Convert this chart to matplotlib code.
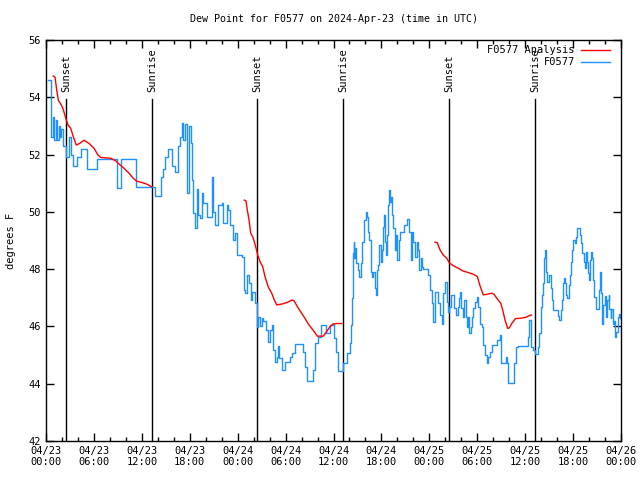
import numpy as np
import pandas as pd
import matplotlib
matplotlib.use('Agg')
from matplotlib import pyplot as plt
import matplotlib.dates as mdates

plt.rcParams['font.family'] = 'DejaVu Sans Mono'

start = pd.Timestamp('2024-04-23 00:00')

# observations: hours after 04/23 00:00 UTC, dew point degF
obs_hours = [0.25, 0.59, 0.66, 0.88, 1.00, 1.19, 1.38, 1.57, 1.75, 1.88, 2.13, 2.47, 2.88, 3.13,
             3.38, 3.92, 4.38, 4.76, 5.17, 6.42, 8.93, 9.35, 11.23, 13.65, 14.36, 14.65, 14.90,
             15.28, 15.74, 16.15, 16.53, 16.78, 16.99, 17.16, 17.41, 17.62, 17.91, 18.12, 18.24,
             18.41, 18.60, 18.87, 19.03, 19.28, 19.50, 19.66, 20.12, 20.82, 20.95, 21.16, 21.54,
             22.00, 22.16, 22.63, 22.79, 23.04, 23.38, 23.67, 23.95, 24.51, 24.79, 24.92, 25.21,
             25.46, 25.63, 25.83, 26.17, 26.38, 26.46, 26.58, 26.80, 26.99, 27.21, 27.55, 27.84,
             28.05, 28.26, 28.46, 28.68, 28.89, 29.09, 29.21, 29.51, 29.93, 30.55, 30.77, 31.18,
             32.22, 32.43, 32.72, 33.47, 33.68, 34.10, 34.44, 35.06, 35.56, 35.90, 36.06, 36.31,
             36.60, 37.23, 37.65, 38.07, 38.19, 38.32, 38.44, 38.53, 38.61, 38.69, 38.82, 39.11,
             39.23, 39.41, 39.61, 39.82, 40.03, 40.16, 40.32, 40.48, 40.66, 40.82, 40.98, 41.16,
             41.28, 41.41, 41.57, 41.74, 41.91, 42.04, 42.24, 42.36, 42.45, 42.57, 42.74, 42.86,
             42.99, 43.08, 43.20, 43.36, 43.49, 43.70, 43.83, 43.99, 44.17, 44.33, 44.87, 45.17,
             45.49, 45.67, 45.83, 45.99, 46.21, 46.42, 46.54, 46.75, 46.96, 47.12, 47.25, 47.87,
             48.08, 48.30, 48.42, 48.50, 48.67, 49.12, 49.34, 49.55, 49.75, 49.93, 50.18, 50.38,
             50.50, 50.68, 51.09, 51.30, 51.63, 51.75, 51.88, 52.00, 52.18, 52.34, 52.56, 52.68,
             52.88, 53.01, 53.18, 53.34, 53.51, 53.68, 54.01, 54.13, 54.35, 54.56, 54.76, 54.97,
             55.19, 55.39, 55.60, 55.81, 56.44, 56.85, 56.98, 57.60, 57.77, 57.89, 58.60, 58.85,
             59.14, 60.39, 60.52, 60.70, 60.95, 61.23, 61.65, 61.77, 61.95, 62.07, 62.20, 62.36,
             62.48, 62.61, 62.77, 62.95, 63.24, 63.40, 63.52, 64.15, 64.28, 64.45, 64.58, 64.70,
             64.83, 64.99, 65.11, 65.28, 65.45, 65.62, 65.74, 65.91, 66.03, 66.18, 66.33, 66.53,
             66.87, 66.99, 67.16, 67.33, 67.49, 67.62, 67.74, 67.87, 68.00, 68.12, 68.28, 68.41,
             68.53, 68.66, 68.83, 69.25, 69.41, 69.53, 69.66, 69.79, 69.96, 70.12, 70.29, 70.46,
             70.56, 70.71, 70.81, 70.96, 71.13, 71.29, 71.41, 71.59, 71.75, 71.88]
obs_dewpt = [54.6, 54.08, 52.6, 53.3, 52.5, 53.2, 52.5, 53.0, 52.6, 52.9, 52.3, 51.9, 52.6, 52.0,
             51.6, 51.9, 52.2, 52.2, 51.5, 51.85, 50.83, 51.83, 50.85, 50.55, 51.23, 51.5, 51.9,
             52.2, 51.6, 51.4, 52.3, 52.6, 53.1, 52.5, 53.07, 50.65, 53.0, 52.4, 51.1,
             49.96, 49.43, 50.8, 49.9, 49.8, 50.65, 50.3, 49.82, 51.23, 50.0, 49.54, 50.24,
             50.3, 49.6, 50.24, 50.06, 49.54, 49.0, 49.26, 48.5, 48.43, 47.27, 47.16, 47.8,
             47.5, 46.92, 47.2, 46.8, 46.16, 45.99, 46.34, 46.0, 46.3, 46.2, 45.87, 45.47,
             45.87, 46.05, 45.18, 44.77, 44.94, 45.3, 44.9, 44.48, 44.77, 44.94, 45.06, 45.39,
             45.12, 44.6, 44.1, 44.48, 45.41, 45.64, 46.05, 45.76, 46.05, 46.08, 45.6, 45.12,
             44.45, 44.72, 45.06, 45.41, 46.05, 46.98, 48.55, 48.96, 48.39, 48.73, 48.2, 47.97,
             47.74, 48.2, 48.96, 49.72, 50.0, 49.83, 49.31, 49.02, 47.91, 47.74, 47.91, 47.33,
             47.1, 47.97, 48.14, 48.84, 48.26, 48.67, 49.48, 49.89, 48.96, 48.49, 49.19, 50.24,
             50.76, 50.35, 50.53, 49.89, 49.43, 48.67, 49.19, 48.32, 49.02, 49.31, 49.54, 49.74,
             49.31, 48.32, 49.31, 48.96, 48.43, 48.96, 48.67, 47.97, 48.38, 48.08, 48.0, 47.8,
             47.27, 46.81, 46.4, 46.16, 47.2, 46.81, 46.4, 46.1, 47.16, 47.56, 46.86, 46.51,
             46.69, 47.1, 46.63, 46.4, 46.69, 46.98, 47.2, 46.63, 46.34, 46.92, 46.34, 45.99,
             46.34, 45.76, 45.99, 46.34, 46.63, 46.86, 47.04, 46.69, 46.1, 45.99, 45.35, 45.0,
             44.73, 44.94, 45.12, 45.35, 45.52, 45.69, 44.71, 44.94, 44.71, 44.01, 44.71, 45.29,
             45.33, 45.64, 46.22, 45.29, 45.18, 45.04, 45.29, 45.76, 46.69, 47.1, 47.5, 48.38,
             48.67, 47.91, 47.56, 47.8, 47.33, 46.92, 46.57, 46.36, 46.22, 46.57, 46.92, 47.5,
             47.68, 47.5, 47.1, 46.98, 47.45, 47.8, 48.26, 48.67, 49.02, 48.9, 49.13, 49.43,
             49.19, 48.9, 48.55, 48.26, 48.03, 48.61, 48.26, 47.85, 47.62, 48.32, 48.61, 48.4,
             47.62, 47.04, 46.6, 47.27, 47.91, 47.16, 46.1, 46.75, 47.06, 46.34, 46.92, 47.1,
             46.6, 46.28, 46.6, 46.1, 46.2, 45.64, 45.82, 46.34, 46.45, 46.3]

# analysis, three separate runs
ana1_hours = [0.91, 1.13, 1.34, 1.54, 1.92, 2.17, 2.47, 2.75, 3.09, 3.42, 3.79, 4.22, 4.76, 5.38,
              6.01, 6.51, 6.85, 8.10, 8.73, 9.14, 9.77, 10.39, 10.93, 11.36, 12.06, 12.68, 13.24]
ana1_dewpt = [54.74, 54.7, 54.25, 53.9, 53.73, 53.56, 53.27, 53.03, 52.92, 52.62, 52.33, 52.39,
              52.5, 52.39, 52.22, 51.98, 51.9, 51.87, 51.78, 51.67, 51.52, 51.35, 51.17, 51.07,
              51.02, 50.96, 50.87]
ana2_hours = [24.83, 25.04, 25.21, 25.42, 25.63, 25.88, 26.08, 26.30, 26.51, 26.80, 27.14, 27.42,
              27.84, 28.26, 28.59, 28.89, 29.51, 30.14, 30.77, 31.05, 31.47, 31.89, 32.43, 32.85,
              33.27, 33.68, 33.97, 34.72, 35.15, 35.56, 35.90, 36.40, 37.03]
ana2_dewpt = [50.41, 50.38, 50.06, 49.72, 49.25, 49.13, 48.96, 48.73, 48.49, 48.26, 48.08, 47.74,
              47.37, 47.16, 46.92, 46.75, 46.78, 46.83, 46.92, 46.9, 46.69, 46.51, 46.28, 46.08,
              45.93, 45.78, 45.66, 45.66, 45.82, 45.99, 46.08, 46.1, 46.1]
ana3_hours = [48.71, 49.00, 49.34, 49.75, 50.18, 50.50, 51.00, 51.63, 52.26, 52.88, 53.51, 54.01,
              54.35, 54.76, 55.19, 55.81, 56.10, 56.51, 56.94, 57.19, 57.48, 57.82, 58.02, 58.32,
              58.77, 59.57, 60.11, 60.48, 60.77]
ana3_dewpt = [48.94, 48.92, 48.67, 48.49, 48.38, 48.22, 48.12, 48.03, 47.93, 47.88, 47.82, 47.74,
              47.41, 47.1, 47.12, 47.16, 47.12, 46.96, 46.81, 46.57, 46.22, 45.93, 45.95, 46.1,
              46.27, 46.29, 46.32, 46.37, 46.4]

sun_times = ['2024-04-23 02:32', '2024-04-23 13:19', '2024-04-24 02:28',
             '2024-04-24 13:14', '2024-04-25 02:30', '2024-04-25 13:16']
sun_labels = ['Sunset', 'Sunrise', 'Sunset', 'Sunrise', 'Sunset', 'Sunrise']


def to_time(hours):
    return start + pd.to_timedelta(np.array(hours), unit='h')


fig = plt.figure(figsize=(6.4, 4.8), dpi=100)
ax = fig.add_axes([0.0719, 0.0813, 0.8984, 0.8354])

for t, lab in zip(sun_times, sun_labels):
    t = pd.Timestamp(t)
    ax.plot([t, t], [42, 53.93], color='black', lw=1)
    ax.text(t, 54.18, lab, rotation=90, ha='center', va='bottom', fontsize=7.5)

ax.plot(to_time(obs_hours), obs_dewpt, color='#1e90ff', lw=1, drawstyle='steps-post')
for h, v in [(ana1_hours, ana1_dewpt), (ana2_hours, ana2_dewpt), (ana3_hours, ana3_dewpt)]:
    ax.plot(to_time(h), v, color='red', lw=1)

ax.set_xlim(start, start + pd.Timedelta(hours=72))
ax.set_ylim(42, 56)
ax.set_yticks(np.arange(42, 57, 2))
ax.xaxis.set_major_locator(mdates.HourLocator(byhour=[0, 6, 12, 18]))
ax.xaxis.set_minor_locator(mdates.HourLocator(byhour=range(0, 24, 2)))
ax.xaxis.set_major_formatter(mdates.DateFormatter('%m/%d\n%H:%M'))
ax.tick_params(axis='both', which='both', direction='in', top=True, right=True,
               labelsize=7.5, width=1)
ax.tick_params(axis='both', which='major', length=6)
ax.tick_params(axis='x', which='minor', length=3)
for s in ax.spines.values():
    s.set_linewidth(1)

ax.set_ylabel('degrees F', fontsize=7.5, labelpad=9)
ax.set_title('Dew Point for F0577 on 2024-Apr-23 (time in UTC)', fontsize=7.2, pad=13)

# legend, gnuplot style (text right-aligned, sample to the right)
for yy, lab, c in [(0.975, 'F0577 Analysis', 'red'), (0.945, 'F0577', '#1e90ff')]:
    ax.text(0.92, yy, lab, transform=ax.transAxes, ha='right', va='center', fontsize=7.5)
    ax.plot([0.930, 0.981], [yy, yy], color=c, lw=1, transform=ax.transAxes)

fig.savefig('out.png', dpi=100)
